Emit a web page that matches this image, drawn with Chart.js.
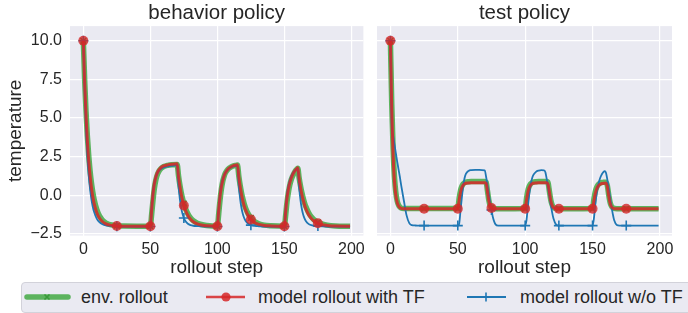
<!DOCTYPE html>
<html>
<head>
<meta charset="utf-8">
<script src="https://cdn.jsdelivr.net/npm/chart.js@4.4.0/dist/chart.umd.min.js"></script>
<style>
html, body { margin: 0; padding: 0; background: #fff; width: 688px; height: 313px; overflow: hidden; font-family: "Liberation Sans", Arial, sans-serif; }
#leftBox { position: absolute; left: 0; top: 0; width: 370px; height: 280px; }
#rightBox { position: absolute; left: 370px; top: 0; width: 318px; height: 280px; }
.legend { position: absolute; left: 21px; top: 282px; width: 700px; height: 31px; background: #EAEAF2; border: 1px solid #d2d2da; border-radius: 4px; box-sizing: border-box; }
.handle { position: absolute; top: 291px; }
.label { position: absolute; top: 286px; font-size: 18px; line-height: 22px; color: #262626; white-space: nowrap; }
</style>
</head>
<body>
<div id="leftBox"><canvas id="behavior" width="370" height="280"></canvas></div>
<div id="rightBox"><canvas id="test" width="318" height="280"></canvas></div>

<div class="legend"></div>
<svg class="handle" style="left:24px" width="48" height="12">
  <line x1="3" y1="6" x2="44" y2="6" stroke="rgba(44,160,44,0.75)" stroke-width="5.5" stroke-linecap="round"/>
  <path d="M20.5 3.5 L25.5 8.5 M25.5 3.5 L20.5 8.5" stroke="#3a9a3a" stroke-width="1.6"/>
</svg>
<div class="label" style="left:81px">env. rollout</div>
<svg class="handle" style="left:205px" width="42" height="12">
  <line x1="1" y1="6" x2="40" y2="6" stroke="rgba(214,39,40,0.85)" stroke-width="2.5"/>
  <circle cx="21" cy="6" r="4.6" fill="rgba(214,39,40,0.85)"/>
</svg>
<div class="label" style="left:258px">model rollout with TF</div>
<svg class="handle" style="left:466px" width="42" height="12">
  <line x1="1" y1="6" x2="40" y2="6" stroke="#1f77b4" stroke-width="2"/>
  <line x1="20" y1="1.5" x2="20" y2="10.5" stroke="#1f77b4" stroke-width="1.6"/>
</svg>
<div class="label" style="left:520px">model rollout w/o TF</div>

<script>
const steps = [0, 1, 2, 3, 4, 5, 6, 7, 8, 10, 12, 14, 16, 18, 20, 25, 30, 40, 50,
  51, 52, 53, 54, 55, 56, 58, 60, 63, 66, 70,
  71, 72, 73, 74, 75, 76, 78, 80, 82, 85, 88, 92, 100,
  101, 102, 103, 104, 105, 106, 108, 110, 112, 114, 115,
  116, 117, 118, 119, 120, 121, 123, 125, 128, 131, 135, 140, 150,
  151, 152, 153, 154, 155, 156, 157, 158, 159, 160,
  161, 162, 163, 164, 165, 166, 168, 170, 172, 175, 178, 182, 188, 199];

// behavior policy
const behaviorEnv = [10, 7.44, 5.43, 3.84, 2.59, 1.61, 0.84, 0.24, -0.24, -0.91, -1.33, -1.58, -1.74, -1.84, -1.90, -1.97, -1.99, -2.0, -2.0,
  -1.2, -0.3, 0.45, 0.95, 1.28, 1.5, 1.74, 1.86, 1.94, 1.98, 2.0,
  1.27, 0.68, 0.20, -0.20, -0.53, -0.80, -1.19, -1.46, -1.64, -1.80, -1.89, -1.95, -2.0,
  -1.2, -0.3, 0.4, 0.9, 1.22, 1.45, 1.7, 1.83, 1.9, 1.94, 1.96,
  1.24, 0.65, 0.17, -0.22, -0.54, -0.81, -1.20, -1.46, -1.71, -1.84, -1.93, -1.97, -2.0,
  -1.25, -0.4, 0.2, 0.65, 0.98, 1.22, 1.4, 1.55, 1.66, 1.75,
  1.13, 0.62, 0.19, -0.17, -0.48, -0.73, -1.11, -1.38, -1.57, -1.75, -1.85, -1.93, -1.98, -2.0];
const behaviorTF = [10, 7.25, 5.13, 3.50, 2.24, 1.27, 0.52, -0.06, -0.50, -1.11, -1.47, -1.68, -1.81, -1.89, -1.93, -1.98, -2.0, -2.0, -2.0,
  -0.9, 0.1, 0.75, 1.15, 1.42, 1.6, 1.8, 1.9, 1.97, 2.01, 2.04,
  1.24, 0.60, 0.09, -0.32, -0.66, -0.92, -1.31, -1.55, -1.71, -1.85, -1.92, -1.97, -2.0,
  -0.95, -0.05, 0.55, 0.95, 1.25, 1.45, 1.7, 1.83, 1.92, 1.96, 1.98,
  1.19, 0.56, 0.06, -0.35, -0.68, -0.94, -1.32, -1.56, -1.77, -1.88, -1.95, -1.98, -2.0,
  -1.0, -0.15, 0.4, 0.8, 1.08, 1.3, 1.47, 1.6, 1.7, 1.78,
  1.09, 0.53, 0.07, -0.30, -0.61, -0.87, -1.24, -1.49, -1.66, -1.81, -1.90, -1.95, -1.99, -2.0];
const behaviorNoTF = [10, 6.71, 4.33, 2.59, 1.34, 0.42, -0.24, -0.72, -1.07, -1.51, -1.74, -1.86, -1.93, -1.96, -1.98, -2.0, -2.02, -2.02, -2.02,
  -0.8, 0.2, 0.8, 1.15, 1.4, 1.55, 1.72, 1.8, 1.87, 1.91, 1.95,
  0.65, -0.23, -0.81, -1.20, -1.47, -1.64, -1.84, -1.93, -1.97, -1.99, -2.01, -2.02, -2.02,
  -0.85, 0.1, 0.7, 1.05, 1.3, 1.48, 1.68, 1.8, 1.87, 1.9, 1.92,
  0.63, -0.24, -0.82, -1.21, -1.47, -1.64, -1.84, -1.93, -1.98, -2.0, -2.02, -2.02, -2.02,
  -0.85, 0.05, 0.6, 0.95, 1.2, 1.38, 1.52, 1.62, 1.69, 1.75,
  0.51, -0.31, -0.87, -1.24, -1.49, -1.66, -1.85, -1.93, -1.97, -1.99, -2.0, -2.02, -2.02, -2.02];

// test policy
const testEnv = [10, 5.9, 3.0, 1.2, 0.2, -0.35, -0.62, -0.76, -0.83, -0.86, -0.86, -0.86, -0.86, -0.86, -0.86, -0.86, -0.86, -0.86, -0.86,
  -0.2, 0.3, 0.58, 0.74, 0.82, 0.86, 0.88, 0.89, 0.89, 0.89, 0.89,
  0.85, 0.3, -0.3, -0.65, -0.8, -0.85, -0.87, -0.87, -0.87, -0.87, -0.87, -0.87, -0.86,
  -0.2, 0.3, 0.58, 0.74, 0.82, 0.86, 0.88, 0.89, 0.89, 0.89, 0.89,
  0.89, 0.8, 0.25, -0.3, -0.62, -0.78, -0.85, -0.87, -0.87, -0.87, -0.87, -0.87, -0.86,
  -0.25, 0.22, 0.5, 0.67, 0.76, 0.81, 0.83, 0.84, 0.85, 0.85,
  0.62, 0.02, -0.45, -0.7, -0.8, -0.85, -0.87, -0.87, -0.87, -0.87, -0.87, -0.87, -0.87, -0.87];
const testTF = [10, 5.5, 2.6, 0.9, 0.0, -0.45, -0.68, -0.8, -0.85, -0.87, -0.87, -0.87, -0.87, -0.87, -0.87, -0.87, -0.87, -0.87, -0.87,
  -0.3, 0.2, 0.5, 0.66, 0.74, 0.78, 0.8, 0.81, 0.81, 0.81, 0.81,
  0.78, 0.25, -0.35, -0.68, -0.82, -0.86, -0.87, -0.87, -0.87, -0.87, -0.87, -0.87, -0.87,
  -0.3, 0.2, 0.5, 0.66, 0.74, 0.78, 0.8, 0.81, 0.81, 0.81, 0.81,
  0.81, 0.7, 0.2, -0.35, -0.65, -0.8, -0.86, -0.87, -0.87, -0.87, -0.87, -0.87, -0.87,
  -0.35, 0.1, 0.4, 0.58, 0.68, 0.73, 0.76, 0.77, 0.78, 0.78,
  0.55, -0.05, -0.5, -0.73, -0.82, -0.86, -0.87, -0.87, -0.87, -0.87, -0.87, -0.87, -0.87, -0.87];
const testNoTF = [10, 4.6, 3.85, 3.3, 2.75, 2.2, 1.7, 1.2, 0.65, -0.35, -1.3, -1.8, -1.93, -1.95, -1.96, -1.96, -1.96, -1.96, -1.96,
  -1.85, -1.0, -0.15, 0.6, 1.1, 1.38, 1.58, 1.63, 1.65, 1.65, 1.62,
  1.2, 0.65, 0.1, -0.45, -0.95, -1.4, -1.88, -1.96, -1.96, -1.96, -1.96, -1.96, -1.96,
  -1.6, -0.75, 0.05, 0.65, 1.05, 1.3, 1.52, 1.6, 1.63, 1.62, 1.5,
  1.05, 0.5, -0.05, -0.6, -1.1, -1.5, -1.9, -1.96, -1.96, -1.96, -1.96, -1.96, -1.96,
  -1.5, -0.6, 0.1, 0.6, 0.95, 1.2, 1.38, 1.5, 1.57, 1.45,
  1.0, 0.45, -0.15, -0.7, -1.2, -1.6, -1.92, -1.96, -1.96, -1.96, -1.96, -1.96, -1.96, -1.96];

const xTicksEvery = 50;
const yTicksEvery = 2.5;
const markEvery = 25;

Chart.defaults.font.family = '"Liberation Sans", Arial, sans-serif';
Chart.defaults.color = '#262626';

function toPoints(vals) {
  return steps.map((s, i) => ({ x: s, y: vals[i] }));
}

function markerSize(r) {
  return function(ctx) {
    if (!ctx.raw) return 0;
    return ctx.raw.x % markEvery === 0 ? r : 0;
  };
}

const bgPlugin = {
  id: 'bg',
  beforeDraw(chart) {
    const a = chart.chartArea;
    const ctx = chart.ctx;
    ctx.save();
    ctx.fillStyle = '#EAEAF2';
    ctx.fillRect(a.left, a.top, a.right - a.left, a.bottom - a.top);
    ctx.restore();
  }
};

function makeChart(id, title, env, tf, noTF, leftPanel) {
  let data = {
    datasets: [{
      label: 'model rollout with TF',
      data: toPoints(tf),
      borderColor: 'rgba(214,39,40,0.85)',
      borderWidth: 3,
      pointStyle: 'circle',
      pointRadius: markerSize(5),
      pointBackgroundColor: 'rgba(214,39,40,0.8)',
      pointBorderWidth: 0,
      order: 1
    }, {
      label: 'model rollout w/o TF',
      data: toPoints(noTF),
      borderColor: '#1f77b4',
      borderWidth: 1.8,
      pointStyle: 'cross',
      pointRadius: markerSize(5),
      pointBorderColor: '#1f77b4',
      pointBorderWidth: 1.6,
      order: 2
    }, {
      label: 'env. rollout',
      data: toPoints(env),
      borderColor: 'rgba(44,160,44,0.75)',
      borderWidth: 5.5,
      pointStyle: 'crossRot',
      pointRadius: markerSize(4),
      pointBorderColor: 'rgba(44,140,44,0.9)',
      pointBorderWidth: 1.5,
      order: 3
    }]
  };

  let options = {
    responsive: false,
    animation: false,
    devicePixelRatio: 1,
    layout: { padding: { left: 0, right: leftPanel ? 4 : 16, top: 0, bottom: 0 } },
    elements: { line: { cubicInterpolationMode: 'monotone' } },
    plugins: {
      legend: { display: false },
      tooltip: { enabled: false }
    },
    scales: {
      x: {
        type: 'linear',
        min: -9.95,
        max: 208.95,
        grid: { color: '#ffffff', lineWidth: 1.2, drawTicks: false },
        border: { display: false },
        ticks: {
          stepSize: xTicksEvery,
          includeBounds: false,
          padding: 4,
          font: { size: 16 },
          callback: function(v) { return String(v); }
        },
        title: { display: true, text: 'rollout step', font: { size: 19 }, padding: { top: 0, bottom: 1 } },
        afterFit: function(s) { s.height = 44.5; s.paddingLeft = 0; s.paddingRight = 0; }
      },
      top: {
        type: 'linear',
        position: 'top',
        grid: { display: false, drawTicks: false },
        border: { display: false },
        ticks: { display: false },
        title: { display: true, text: title, font: { size: 20.5 }, padding: { top: 1.5, bottom: 0 } },
        afterFit: function(s) { s.height = 26.1; }
      },
      y: {
        min: -2.6,
        max: 10.95,
        grid: { color: '#ffffff', lineWidth: 1.2, drawTicks: false },
        border: { display: false },
        ticks: {
          display: leftPanel,
          stepSize: yTicksEvery,
          includeBounds: false,
          padding: 8,
          font: { size: 16 },
          callback: function(v) { return (v < 0 ? '\u2212' : '') + Math.abs(v).toFixed(1); }
        },
        title: { display: leftPanel, text: 'temperature', font: { size: 19 }, padding: { top: 4, bottom: 0 } },
        afterFit: function(s) { s.width = leftPanel ? 70 : 7; s.paddingTop = 0; s.paddingBottom = 0; }
      }
    }
  };

  let ctx = document.getElementById(id).getContext('2d');
  return new Chart(ctx, {
    type: 'line',
    data: data,
    options: options,
    plugins: [bgPlugin]
  });
}

makeChart('behavior', 'behavior policy', behaviorEnv, behaviorTF, behaviorNoTF, true);
makeChart('test', 'test policy', testEnv, testTF, testNoTF, false);
</script>
</body>
</html>
